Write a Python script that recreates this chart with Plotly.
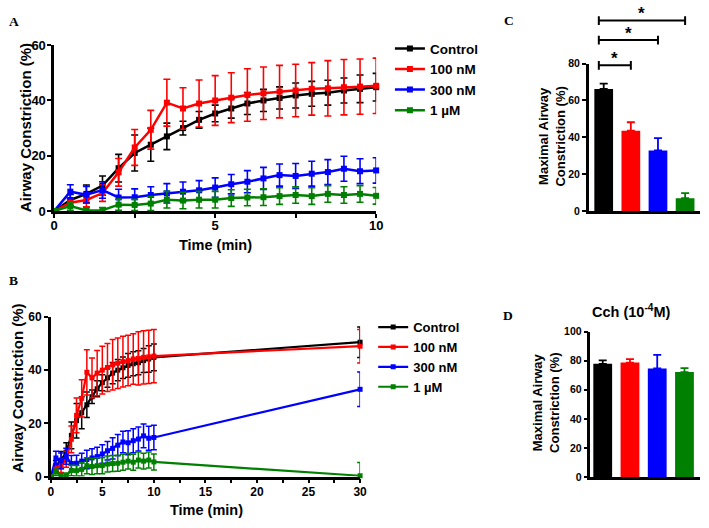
import plotly.graph_objects as go

W, H = 709, 528

# ---------------- data ----------------
time_a = [0, 0.5, 1, 1.5, 2, 2.5, 3, 3.5, 4, 4.5, 5, 5.5, 6, 6.5, 7, 7.5, 8, 8.5, 9, 9.5, 10]
time_b = time_a + [30]

series_names = ["Control", "100 nM", "300 nM", "1 µM"]
series_colors = ["#000000", "#ff0000", "#0000ff", "#008000"]

control = [0, 4, 6.2, 9.2, 15.5, 21, 24, 27, 30, 33, 35.3, 37.1, 38.9, 40, 40.9, 41.8, 42.4, 42.8, 43.6, 44.2, 44.8]
control_err = [0, 2, 3.2, 3.5, 5, 6.5, 6, 4.8, 2.5, 3, 3, 3.5, 4, 4, 4, 4.5, 4.5, 4.5, 4.5, 5, 5]
nm100 = [0, 3, 4, 6.5, 14, 23, 29.4, 39.2, 37.1, 38.9, 40, 41, 42, 42.6, 43.2, 43.6, 44.2, 44.4, 44.8, 45, 45.3]
nm100_err = [0, 1.5, 2.5, 3, 5, 6.5, 7, 8.5, 7.5, 8.5, 9, 9, 9.5, 9.5, 9.5, 9.5, 9.5, 10, 10, 10, 10]
nm300 = [0, 7, 5.9, 7.6, 4.9, 5, 5.8, 6.4, 7, 7.5, 8.5, 9.7, 10.6, 11.8, 13, 12.7, 13.5, 14.1, 15.3, 14.4, 14.7]
nm300_err = [0, 2.5, 3, 3, 3, 3, 3, 3.5, 3.5, 3.5, 3.5, 3.5, 4, 4, 4, 4.5, 4.5, 4.5, 4.5, 4.5, 4.6]
um1 = [0, 1.8, 0.2, 0.3, 2.3, 2.2, 2.7, 4.1, 3.8, 4.1, 4.1, 4.7, 4.9, 5, 5.4, 5.8, 5.4, 6.2, 5.8, 6.2, 5.5]
um1_err = [0, 1.5, 1, 1, 2, 2, 2.5, 3, 3, 3, 3, 3, 3, 3, 3, 3, 3, 3, 3, 3, 3]

# 30-min values (panel B)
val_30 = [50.5, 49.0, 32.8, 0.3]
err_30 = [5.7, 6.3, 6.5, 5.0]

# panel C: maximal constriction
bar_c = [66.3, 43.6, 32.9, 7.0]
bar_c_err = [2.8, 4.6, 6.7, 2.7]
# panel D: carbachol 10^-4 M
bar_d = [77.8, 78.7, 74.7, 72.2]
bar_d_err = [2.4, 2.4, 9.3, 2.7]

xticks_a = [0, 2.5, 5, 7.5, 10]
xtext_a = ["0", "", "5", "", "10"]
xticks_b = [0, 2.5, 5, 7.5, 10, 12.5, 15, 17.5, 20, 22.5, 25, 27.5, 30]
xtext_b = ["0", "", "5", "", "10", "", "15", "", "20", "", "25", "", "30"]

sig_ends = [1, 2, 3]  # comparisons of Control vs groups

FONT = "Liberation Sans, Arial, sans-serif"
SERIF = "Liberation Serif, Times New Roman, serif"

ys = [control, nm100, nm300, um1]
es = [control_err, nm100_err, nm300_err, um1_err]

fig = go.Figure()

def px_x(p):
    return p / W

def px_y(p):
    return 1 - p / H

# Panel A
for name, col, y, e in zip(series_names, series_colors, ys, es):
    fig.add_trace(go.Scatter(
        x=time_a, y=y, name=name, mode="lines+markers",
        line=dict(color=col, width=2.5),
        marker=dict(symbol="square", size=6, color=col),
        error_y=dict(type="data", array=e, color=col, thickness=1.6, width=3.5),
        cliponaxis=False, xaxis="x", yaxis="y", legend="legend"))

# Panel B
for i, (name, col, y, e) in enumerate(zip(series_names, series_colors, ys, es)):
    fig.add_trace(go.Scatter(
        x=time_b, y=y + [val_30[i]], name=name, mode="lines+markers",
        line=dict(color=col, width=2.2),
        marker=dict(symbol="square", size=5, color=col),
        error_y=dict(type="data", array=e + [err_30[i]], color=col, thickness=1.5, width=3),
        cliponaxis=False, xaxis="x2", yaxis="y2", legend="legend2"))

# Panel C
for i in range(4):
    fig.add_trace(go.Bar(
        x=[i], y=[bar_c[i]], marker=dict(color=series_colors[i], line=dict(width=0)),
        width=0.69, showlegend=False,
        error_y=dict(type="data", array=[bar_c_err[i]], arrayminus=[0], symmetric=False,
                     color=series_colors[i], thickness=1.8, width=4),
        xaxis="x3", yaxis="y3"))

# Panel D
for i in range(4):
    fig.add_trace(go.Bar(
        x=[i], y=[bar_d[i]], marker=dict(color=series_colors[i], line=dict(width=0)),
        width=0.69, showlegend=False,
        error_y=dict(type="data", array=[bar_d_err[i]], arrayminus=[0], symmetric=False,
                     color=series_colors[i], thickness=1.8, width=4),
        xaxis="x4", yaxis="y4"))

axis_common = dict(showline=True, linewidth=2.5, linecolor="black", ticks="outside",
                   ticklen=4, tickwidth=2, tickcolor="black", showgrid=False, zeroline=False,
                   fixedrange=True)

fig.update_layout(
    width=W, height=H, margin=dict(l=0, r=0, t=0, b=0, pad=0),
    paper_bgcolor="white", plot_bgcolor="white", barmode="overlay",
    xaxis=dict(axis_common, domain=[px_x(51), px_x(378)], range=[0, 10], anchor="y",
               tickvals=xticks_a, ticktext=xtext_a, ticklabelstandoff=-3,
               tickfont=dict(family=FONT, size=13, color="black", weight="bold")),
    yaxis=dict(axis_common, domain=[px_y(210), px_y(39.3)], range=[0, 60], anchor="x",
               tickvals=[0, 20, 40, 60], ticklabelstandoff=-1,
               tickfont=dict(family=FONT, size=13, color="black", weight="bold")),
    xaxis2=dict(axis_common, domain=[px_x(47.5), px_x(361.7)], range=[0, 30], anchor="y2",
                tickvals=xticks_b, ticktext=xtext_b, ticklabelstandoff=-2,
                tickfont=dict(family=FONT, size=12, color="black", weight="bold")),
    yaxis2=dict(axis_common, domain=[px_y(483.3), px_y(319)], range=[0, 60], anchor="x2",
                tickvals=[0, 20, 40, 60],
                tickfont=dict(family=FONT, size=12, color="black", weight="bold")),
    xaxis3=dict(axis_common, domain=[px_x(594), px_x(707)], range=[-0.55, 3.55], anchor="y3",
                ticks="", showticklabels=False),
    yaxis3=dict(axis_common, domain=[px_y(210), px_y(58.3)], range=[0, 80], anchor="x3",
                tickvals=[0, 20, 40, 60, 80],
                tickfont=dict(family=FONT, size=10.5, color="black", weight="bold")),
    xaxis4=dict(axis_common, domain=[px_x(595.7), px_x(706.7)], range=[-0.45, 3.56], anchor="y4",
                ticks="", showticklabels=False),
    yaxis4=dict(axis_common, domain=[px_y(484), px_y(334)], range=[0, 100], anchor="x4",
                tickvals=[0, 20, 40, 60, 80, 100],
                tickfont=dict(family=FONT, size=10.5, color="black", weight="bold")),
    legend=dict(x=px_x(392), y=px_y(27), xanchor="left", yanchor="top",
                font=dict(family=FONT, size=13.5, color="black", weight="bold"),
                bgcolor="rgba(0,0,0,0)", tracegroupgap=0, itemwidth=30),
    legend2=dict(x=px_x(375), y=px_y(314), xanchor="left", yanchor="top",
                 font=dict(family=FONT, size=13, color="black", weight="bold"),
                 bgcolor="rgba(0,0,0,0)", tracegroupgap=0, itemwidth=30),
)

ann = []
def text(x, y, t, size, family=FONT, angle=0):
    ann.append(dict(x=px_x(x), y=px_y(y), xref="paper", yref="paper", text=t, showarrow=False,
                    xanchor="center", yanchor="middle", textangle=angle,
                    font=dict(family=family, size=size, color="black", weight="bold")))

# panel letters
text(10, 15, "A", 13.5, SERIF)
text(10, 282, "B", 13.5, SERIF)
text(513, 14, "C", 13.5, SERIF)
text(512, 318, "D", 13.5, SERIF)
# axis titles
text(22, 124, "Airway Constriction (%)", 15, angle=-90)
text(215, 245, "Time (min)", 14.5)
text(14, 392, "Airway Constriction (%)", 15, angle=-90)
text(206, 518, "Time (min)", 14.5)
text(557, 133, "Maximal Airway<br>Constriction (%)", 13, angle=-90)
text(551, 407, "Maximal Airway<br>Constriction (%)", 13, angle=-90)
text(637, 313, "Cch (10<sup>-4</sup>M)", 14.5)

# significance brackets for panel C
shapes = []
bracket_y = [60, 34, 14]
star_y = [53, 27, 7]
for end, by, sy in zip(sig_ends, bracket_y, star_y):
    shapes.append(dict(type="line", xref="x3", yref="paper", x0=-0.18, x1=end,
                       y0=px_y(by), y1=px_y(by), line=dict(color="black", width=2)))
    for xe in (-0.18, end):
        shapes.append(dict(type="line", xref="x3", yref="paper", x0=xe, x1=xe,
                           y0=px_y(by - 4.5), y1=px_y(by + 4.5), line=dict(color="black", width=2)))
    ann.append(dict(x=(end - 0.18) / 2, y=px_y(sy), xref="x3", yref="paper", text="*",
                    showarrow=False, xanchor="center", yanchor="middle",
                    font=dict(family=FONT, size=17, color="black", weight="bold")))

fig.update_layout(annotations=ann, shapes=shapes)
fig.write_html("out.html", config={"displayModeBar": False},
               post_script="document.body.style.margin='0';document.body.style.overflow='hidden';")
